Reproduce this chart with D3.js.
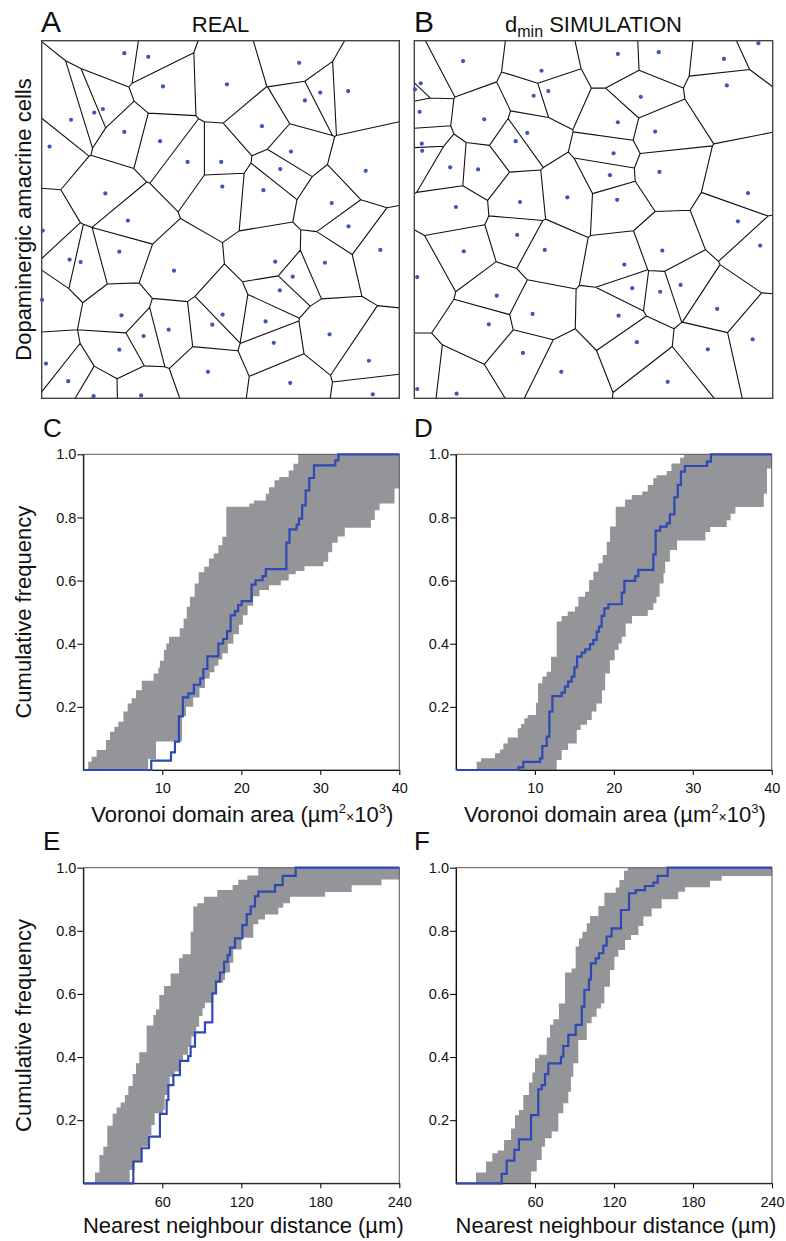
<!DOCTYPE html>
<html><head><meta charset="utf-8">
<script src="https://cdn.jsdelivr.net/npm/d3@7"></script>
<style>
body{margin:0;background:#fff}
svg{display:block}
text{font-family:"Liberation Sans",Arial,Helvetica,sans-serif;fill:#111}
</style>
</head><body>
<svg id="fig" width="786" height="1241"></svg>
<script>
// ---------------- DATA ----------------
// Cell positions (field coordinates, 0-100 across the sampled square)
const realCells = [
 [23.1,3.5],[29.8,4.5],[72.0,6.2],[33.9,12.8],[51.8,12.2],[77.9,14.5],[85.7,14.1],[73.6,16.7],
 [14.7,20.1],[17.1,19.1],[8.2,22.1],[61.6,23.9],[23.1,25.5],[33.1,28.1],[2.2,29.6],[69.7,31.0],
 [40.8,33.9],[50.2,33.9],[66.7,35.9],[90.6,36.4],[50.5,40.8],[62.0,41.8],[17.8,42.7],[81.1,45.4],
 [24.1,50.3],[85.8,51.9],[0.3,53.1],[94.7,58.5],[21.7,59.0],[7.8,61.2],[10.9,61.9],[65.3,61.8],
 [79.2,62.1],[37.0,64.3],[70.2,66.0],[66.6,69.8],[0.1,72.5],[22.3,76.8],[50.6,76.6],[47.7,79.4],
 [62.6,78.5],[35.5,80.8],[28.5,82.6],[80.5,82.1],[64.9,84.5],[21.7,86.4],[1.2,90.3],[91.5,89.5],
 [46.5,92.6],[7.4,95.2],[69.5,95.7],[14.5,99.4],[27.8,99.2],[92.6,98.9]
];
const simCells = [
 [96.0,0.7],[56.8,3.7],[68.2,3.2],[13.6,5.7],[86.4,5.1],[35.5,8.4],[1.8,11.9],[0.2,13.6],
 [87.2,12.5],[37.4,14.1],[33.3,15.4],[63.2,15.7],[1.5,19.9],[19.5,22.0],[56.8,22.8],[67.2,25.4],
 [31.5,25.8],[28.3,28.1],[2.1,28.8],[2.2,30.8],[55.6,31.5],[10.0,35.4],[17.8,36.0],[68.4,36.7],
 [54.6,37.6],[93.1,42.6],[42.7,43.8],[56.6,44.5],[29.5,45.1],[11.6,46.5],[90.3,50.5],[28.7,54.3],
 [96.5,57.3],[13.8,58.9],[36.4,58.5],[69.2,58.7],[58.6,62.6],[0.8,66.1],[74.3,68.3],[60.8,69.2],
 [68.6,70.2],[23.0,71.3],[84.5,75.0],[33.0,76.4],[57.0,76.9],[20.8,79.3],[94.4,83.5],[62.1,84.3],
 [30.3,87.3],[81.9,86.3],[41.0,92.6],[70.7,95.4],[0.8,97.4],[11.8,98.7]
];

// Cumulative distributions: [x at step, cumulative frequency after step]
// C: Voronoi domain area, real retina (x in um^2 x 10^3)
const cReal = [[8.6,0.03],[11.1,0.056],[11.6,0.09],[12.1,0.17],[12.6,0.23],[13.3,0.243],[14.0,0.27],
 [14.8,0.29],[15.2,0.32],[15.7,0.36],[17.1,0.40],[17.7,0.415],[18.2,0.44],[18.65,0.49],[19.2,0.503],
 [19.6,0.522],[20.05,0.535],[21.3,0.587],[21.8,0.601],[22.7,0.614],[23.1,0.636],[25.7,0.72],
 [26.1,0.762],[27.0,0.777],[27.3,0.796],[27.7,0.838],[28.15,0.886],[28.6,0.925],[29.2,0.965],
 [31.9,0.981],[32.3,1.0]];
const cEnvHigh = [[0.63,0.026],[1.05,0.042],[1.69,0.063],[2.87,0.095],[3.38,0.121],[3.93,0.137],
 [4.43,0.153],[5.08,0.185],[5.62,0.211],[6.12,0.227],[6.67,0.253],[7.4,0.283],[8.9,0.306],[9.5,0.324],
 [9.7,0.346],[10.2,0.38],[10.5,0.401],[10.85,0.422],[12.2,0.449],[12.7,0.48],[13.1,0.517],[13.5,0.549],
 [14.1,0.591],[14.6,0.626],[15.3,0.644],[15.9,0.67],[16.5,0.686],[17.1,0.712],[17.6,0.739],[18.1,0.834],
 [21.0,0.844],[21.6,0.854],[23.1,0.875],[23.5,0.896],[24.2,0.918],[24.8,0.928],[26.0,0.949],
 [26.6,0.97],[27.2,1.0]];
const cEnvLow = [[8.2,0.035],[9.2,0.09],[12.5,0.17],[13.0,0.20],[13.9,0.23],[14.7,0.26],[15.4,0.29],
 [16.0,0.31],[16.6,0.33],[17.1,0.35],[17.6,0.37],[18.3,0.40],[19.0,0.43],[19.7,0.46],[20.2,0.49],
 [20.8,0.52],[21.5,0.55],[22.3,0.57],[23.5,0.585],[25.0,0.60],[26.0,0.62],[26.9,0.63],[28.0,0.645],
 [30.4,0.66],[31.0,0.69],[31.5,0.72],[32.2,0.74],[33.1,0.767],[36.4,0.792],[36.9,0.823],[37.5,0.844],
 [39.4,0.892]];

// D: Voronoi domain area, dmin simulation
const dSim = [[7.9,0.0085],[8.53,0.026],[10.65,0.037],[10.94,0.076],[11.49,0.106],[11.83,0.185],
 [12.21,0.234],[13.39,0.245],[13.8,0.264],[14.2,0.28],[14.66,0.296],[15.0,0.325],[15.34,0.359],
 [15.93,0.372],[16.35,0.382],[16.98,0.399],[17.4,0.412],[17.83,0.438],[18.12,0.454],[18.46,0.488],
 [18.8,0.512],[19.3,0.525],[21.0,0.562],[21.33,0.599],[22.7,0.614],[23.1,0.634],[25.0,0.683],
 [25.3,0.758],[25.86,0.771],[26.7,0.781],[27.1,0.81],[27.67,0.864],[28.1,0.903],[28.5,0.945],
 [29.0,0.963],[31.8,0.977],[32.3,1.0]];
const dEnvHigh = [[2.62,0.026],[3.17,0.037],[4.94,0.053],[5.58,0.065],[6.0,0.084],[6.55,0.103],
 [7.82,0.132],[8.24,0.146],[8.66,0.164],[9.08,0.174],[10.14,0.213],[10.4,0.275],[10.94,0.296],
 [11.49,0.311],[12.04,0.359],[12.76,0.47],[13.39,0.488],[14.15,0.502],[15.08,0.517],[15.5,0.549],
 [16.35,0.565],[16.86,0.602],[17.4,0.628],[18.04,0.655],[18.59,0.681],[19.1,0.723],[19.52,0.771],
 [20.24,0.834],[21.42,0.857],[22.27,0.871],[23.6,0.882],[24.3,0.903],[25.0,0.924],[25.4,0.934],
 [26.7,0.947],[27.3,0.971],[28.4,0.989],[28.9,1.0]];
const dEnvLow = [[12.76,0.032],[13.39,0.063],[14.2,0.084],[15.3,0.127],[15.8,0.143],[16.6,0.158],
 [17.2,0.185],[17.8,0.211],[18.5,0.253],[18.9,0.306],[19.5,0.348],[20.1,0.38],[20.6,0.401],
 [21.0,0.422],[21.5,0.464],[22.3,0.488],[24.3,0.507],[25.0,0.528],[25.4,0.549],[25.8,0.591],
 [26.3,0.623],[26.5,0.66],[27.1,0.697],[28.0,0.727],[31.6,0.754],[32.2,0.77],[34.3,0.791],
 [34.8,0.812],[35.4,0.833],[39.0,0.875],[39.4,0.955]];

// E: nearest neighbour distance, real retina (um)
const eReal = [[38.0,0.069],[44.3,0.111],[49.9,0.148],[58.2,0.22],[63.3,0.264],[64.6,0.311],
 [68.4,0.343],[73.4,0.388],[79.7,0.403],[81.5,0.433],[84.8,0.478],[92.4,0.51],[98.0,0.602],
 [100.8,0.639],[103.8,0.668],[106.9,0.702],[109.6,0.723],[111.4,0.747],[115.2,0.776],[120.8,0.818],
 [124.1,0.853],[127.1,0.877],[130.4,0.91],[132.9,0.924],[145.6,0.945],[151.4,0.974],[161.3,1.0]];
const eEnvHigh = [[8.9,0.034],[12.2,0.09],[15.2,0.116],[18.2,0.182],[22.3,0.22],[25.3,0.24],
 [28.4,0.256],[31.6,0.28],[34.2,0.308],[37.5,0.346],[40.0,0.38],[42.5,0.415],[48.1,0.50],[53.2,0.533],
 [55.2,0.551],[57.7,0.597],[61.3,0.625],[66.3,0.665],[72.7,0.713],[75.4,0.726],[81.5,0.797],
 [83.5,0.877],[86.6,0.887],[91.6,0.908],[101.8,0.929],[113.4,0.945],[117.7,0.962],[124.6,0.975],
 [132.9,1.0]];
const eEnvLow = [[35.2,0.042],[39.0,0.068],[44.1,0.116],[49.1,0.153],[51.7,0.185],[54.2,0.222],
 [60.5,0.232],[61.8,0.28],[64.3,0.306],[65.6,0.338],[69.4,0.354],[73.2,0.385],[75.7,0.407],
 [79.5,0.433],[82.1,0.465],[85.8,0.496],[88.0,0.53],[90.5,0.555],[92.4,0.572],[98.7,0.604],
 [101.3,0.636],[106.3,0.645],[107.6,0.668],[111.4,0.699],[113.9,0.741],[120.2,0.778],[129.1,0.821],
 [132.9,0.836],[138.0,0.852],[148.1,0.873],[151.9,0.887],[157.0,0.908],[183.6,0.923],[203.8,0.944],
 [226.5,0.963]];

// F: nearest neighbour distance, dmin simulation
const fSim = [[34.7,0.03],[38.5,0.072],[44.3,0.106],[47.8,0.139],[57.0,0.216],[62.5,0.298],
 [65.1,0.311],[67.6,0.346],[70.1,0.38],[79.7,0.401],[81.5,0.435],[85.3,0.47],[90.9,0.502],
 [95.5,0.56],[97.5,0.613],[101.0,0.646],[102.5,0.697],[106.1,0.713],[108.6,0.729],[111.9,0.753],
 [114.4,0.782],[118.2,0.808],[125.3,0.866],[131.4,0.919],[136.5,0.929],[143.5,0.942],[149.9,0.953],
 [153.2,0.974],[160.8,1.0]];
const fEnvHigh = [[15.2,0.034],[22.8,0.069],[27.6,0.095],[31.6,0.104],[36.5,0.137],[41.8,0.174],
 [44.8,0.216],[47.8,0.232],[51.1,0.28],[55.4,0.319],[58.0,0.351],[60.0,0.396],[63.0,0.407],
 [68.9,0.462],[71.4,0.502],[73.9,0.52],[78.2,0.57],[82.8,0.668],[87.8,0.681],[90.9,0.75],[93.4,0.776],
 [96.0,0.797],[99.3,0.824],[101.8,0.847],[108.1,0.879],[112.7,0.921],[121.3,0.937],[124.1,0.961],
 [127.6,0.99],[130.4,1.0]];
const fEnvLow = [[57.0,0.037],[61.3,0.074],[65.1,0.116],[67.6,0.143],[72.7,0.164],[77.7,0.222],
 [81.5,0.254],[85.3,0.29],[87.3,0.338],[89.1,0.38],[92.9,0.454],[99.3,0.507],[103.0,0.528],
 [106.8,0.554],[110.1,0.57],[112.7,0.623],[117.0,0.676],[120.3,0.718],[123.3,0.739],[128.4,0.771],
 [132.9,0.787],[138.5,0.815],[142.3,0.845],[148.6,0.871],[156.2,0.9],[168.8,0.924],[173.9,0.938],
 [192.9,0.959],[201.8,0.974]];

const yTicks = [0.2, 0.4, 0.6, 0.8, 1.0];
const areaTicks = [10, 20, 30, 40];
const nndTicks = [60, 120, 180, 240];

// ---------------- DRAWING ----------------
const svg = d3.select("#fig");
const DOT = "#3c55c0", LINE = "#2f48b3", BAND = "#939598";

function letter(t, x, y, size) {
  svg.append("text").attr("x", x).attr("y", y).attr("font-size", size).text(t);
}

function voronoiPanel(cells, box) {
  const sx = d3.scaleLinear().domain([0, 100]).range([box[0], box[2]]);
  const sy = d3.scaleLinear().domain([0, 100]).range([box[1], box[3]]);
  const pts = cells.map(c => [sx(c[0]), sy(c[1])]);
  const vor = d3.Delaunay.from(pts).voronoi(box);
  const g = svg.append("g");
  g.append("path").attr("d", vor.render()).attr("fill", "none")
    .attr("stroke", "#111").attr("stroke-width", 1.1);
  g.append("rect").attr("x", box[0]).attr("y", box[1])
    .attr("width", box[2] - box[0]).attr("height", box[3] - box[1])
    .attr("fill", "none").attr("stroke", "#444").attr("stroke-width", 1.4);
  g.selectAll("circle").data(pts).join("circle")
    .attr("cx", d => d[0]).attr("cy", d => d[1]).attr("r", 2.1).attr("fill", DOT);
}

function stepValue(arr, v) {
  let r = 0;
  for (const p of arr) if (p[0] <= v) r = Math.max(r, p[1]);
  return r;
}

function cdfPanel(o) {
  const x = d3.scaleLinear().domain([0, o.xmax]).range([o.x0, o.x1]);
  const y = d3.scaleLinear().domain([0, 1]).range([o.y0, o.y1]);
  const g = svg.append("g");
  // envelope band
  const xs = Array.from(new Set([0, ...o.high.map(p => p[0]), ...o.low.map(p => p[0]), o.xmax]))
    .sort((a, b) => a - b);
  const band = xs.map(v => ({x: v, lo: stepValue(o.low, v), hi: stepValue(o.high, v)}));
  g.append("path").datum(band)
    .attr("d", d3.area().curve(d3.curveStepAfter).x(d => x(d.x)).y0(d => y(d.lo)).y1(d => y(d.hi)))
    .attr("fill", BAND);
  // frame
  g.append("rect").attr("x", o.x0).attr("y", o.y1).attr("width", o.x1 - o.x0).attr("height", o.y0 - o.y1)
    .attr("fill", "none").attr("stroke", "#555").attr("stroke-width", 1);
  // axes
  const ay = g.append("g").attr("transform", `translate(${o.x0},0)`)
    .call(d3.axisLeft(y).tickValues(yTicks).tickFormat(d3.format(".1f")).tickSize(6).tickSizeOuter(0).tickPadding(1));
  const ax = g.append("g").attr("transform", `translate(0,${o.y0})`)
    .call(d3.axisBottom(x).tickValues(o.ticks).tickSize(5).tickSizeOuter(0).tickPadding(8));
  [ay, ax].forEach(a => {
    a.selectAll("text").attr("font-size", 14.5).attr("font-family", null).attr("fill", "#111");
    a.selectAll("line,path").attr("stroke", "#111").attr("stroke-width", 1.1);
  });
  // observed CDF
  const pts = [[0, 0], ...o.obs, [o.xmax, 1]];
  g.append("path").datum(pts)
    .attr("d", d3.line().curve(d3.curveStepAfter).x(d => x(d[0])).y(d => y(d[1])))
    .attr("fill", "none").attr("stroke", LINE).attr("stroke-width", 2.2);
  return {x, y};
}

// Panel A & B
const boxA = [41.7, 40.7, 399.3, 398.3];
const boxB = [414.3, 40.7, 772.7, 398.3];
voronoiPanel(realCells, boxA);
voronoiPanel(simCells, boxB);

letter("A", 41, 31.7, 30);
letter("B", 414, 31.7, 30);
svg.append("text").attr("x", (boxA[0] + boxA[2]) / 2).attr("y", 31.7).attr("text-anchor", "middle")
  .attr("font-size", 22).text("REAL");
const tB = svg.append("text").attr("x", (boxB[0] + boxB[2]) / 2).attr("y", 31.7)
  .attr("text-anchor", "middle").attr("font-size", 22);
tB.append("tspan").text("d");
tB.append("tspan").attr("font-size", 16).attr("dy", 5).text("min");
tB.append("tspan").attr("dy", -5).text(" SIMULATION");

svg.append("text").attr("transform", `translate(31,${(boxA[1] + boxA[3]) / 2}) rotate(-90)`)
  .attr("text-anchor", "middle").attr("font-size", 22).text("Dopaminergic amacrine cells");

// Panels C-F
const areaLabel = (g, cx, by) => {
  const t = svg.append("text").attr("x", cx).attr("y", by).attr("text-anchor", "middle").attr("font-size", 22);
  t.append("tspan").text("Voronoi domain area (\u00b5m");
  t.append("tspan").attr("font-size", 13).attr("dy", -9).text("2");
  t.append("tspan").attr("font-size", 14).attr("dy", 9).text("\u00d7");
  t.append("tspan").text("10");
  t.append("tspan").attr("font-size", 13).attr("dy", -9).text("3");
  t.append("tspan").attr("dy", 9).text(")");
};
const nndLabel = (cx, by) => {
  svg.append("text").attr("x", cx).attr("y", by).attr("text-anchor", "middle").attr("font-size", 22)
    .text("Nearest neighbour distance (\u00b5m)");
};
const yLabel = (cy) => {
  svg.append("text").attr("transform", `translate(31,${cy}) rotate(-90)`)
    .attr("text-anchor", "middle").attr("font-size", 22).text("Cumulative frequency");
};

const C = {x0: 83.3, x1: 399.3, y0: 770, y1: 454.3};
const D = {x0: 456, x1: 771.7, y0: 770, y1: 454.3};
const E = {x0: 83.3, x1: 399.3, y0: 1183.3, y1: 867.7};
const F = {x0: 456, x1: 772, y0: 1183.3, y1: 867.7};

cdfPanel({...C, xmax: 40, ticks: areaTicks, obs: cReal, high: cEnvHigh, low: cEnvLow});
cdfPanel({...D, xmax: 40, ticks: areaTicks, obs: dSim, high: dEnvHigh, low: dEnvLow});
cdfPanel({...E, xmax: 240, ticks: nndTicks, obs: eReal, high: eEnvHigh, low: eEnvLow});
cdfPanel({...F, xmax: 240, ticks: nndTicks, obs: fSim, high: fEnvHigh, low: fEnvLow});

letter("C", 43, 437, 26);
letter("D", 414, 437, 26);
letter("E", 43, 850, 26);
letter("F", 414, 850, 26);

areaLabel(null, (C.x0 + C.x1) / 2 + 1, 822);
areaLabel(null, (D.x0 + D.x1) / 2 + 1, 822);
nndLabel((E.x0 + E.x1) / 2 + 2, 1233);
nndLabel((F.x0 + F.x1) / 2 + 2, 1233);
yLabel((C.y0 + C.y1) / 2);
yLabel((E.y0 + E.y1) / 2);
</script>
</body></html>
